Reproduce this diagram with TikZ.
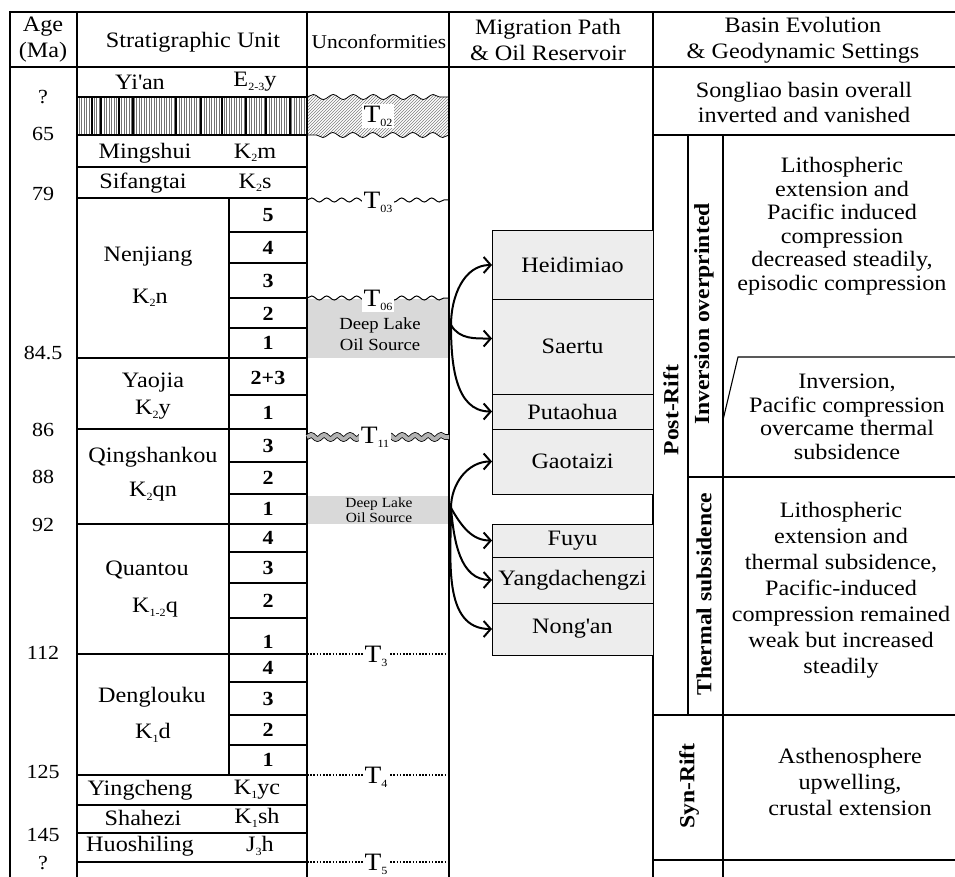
\documentclass[tikz,border=0pt]{standalone}
\usepackage{fontspec}
\setmainfont{Liberation Serif}[FakeStretch=1.1]
\usetikzlibrary{patterns,decorations.pathmorphing,arrows.meta}
\definecolor{srcgray}{HTML}{D9D9D9}
\definecolor{boxgray}{HTML}{EDEDED}
\newcommand\sbs[1]{\raisebox{-0.35ex}{\fontsize{11}{11}\selectfont #1}}
\newcommand\apo{\textquotesingle}
\begin{document}
\begin{tikzpicture}[x=1pt,y=-1pt,
  every node/.style={inner sep=0pt,outer sep=0pt},
  lbl/.style={font=\fontsize{22}{24}\selectfont,align=center},
  agel/.style={font=\fontsize{20}{22}\selectfont},
  num/.style={font=\bfseries\fontsize{20}{22}\selectfont},
  vlab/.style={font=\bfseries\fontsize{21.5}{22}\selectfont,rotate=90},
  tlab/.style={font=\fontsize{25}{26}\selectfont,fill=white,inner sep=1.5pt},
  resbox/.style={draw,line width=1pt,fill=boxgray,minimum width=161pt,anchor=north west,font=\fontsize{22}{24}\selectfont},
  grid/.style={line width=1.1pt},
  wavy/.style={line width=1pt,decorate,decoration={snake,amplitude=2pt,segment length=15pt}},
  rope/.style={line width=0.8pt,double=black!30,double distance=4pt,decorate,decoration={snake,amplitude=2pt,segment length=13pt}},
  dotline/.style={line width=1.8pt,dash pattern=on 1.6pt off 1.6pt},
  mig/.style={line width=2pt,-{Straight Barb[length=7pt,width=16pt]}}
]
\useasboundingbox (0,0) rectangle (955,877);
\fill[white] (0,0) rectangle (955,877);

% gray source fills
\fill[srcgray] (307,299) rectangle (449,358);
\fill[srcgray] (307,496) rectangle (449,524);

% hatched hiatus row
\foreach \x in {79,81.5,...,305} \draw[line width=0.45pt,black!55] (\x,97) -- (\x,135);
\foreach \x in {92,101,119,133,176,201,222,246,266,290} \draw[line width=1.3pt] (\x,97) -- (\x,135);

% T02 band
\draw[line width=0.8pt,pattern=north east lines,pattern color=black!50,
      decoration={snake,amplitude=2.5pt,segment length=20pt}]
  (307,97) decorate {-- (449,97)} -- (449,135) decorate {-- (307,135)} -- cycle;

% outer frame and columns
\draw[line width=2pt] (10,12) -- (955,12);
\draw[line width=2.2pt] (10,11) -- (10,877);
\draw[grid] (10,67) -- (955,67);
\foreach \x in {77,307,449,653} \draw[grid] (\x,12) -- (\x,877);

% stratigraphic grid
\foreach \y in {97,135,167,198,358,429,524,654,775,805,833,862} \draw[grid] (77,\y) -- (307,\y);
\foreach \y in {232,263,298,328,395,462,494,552,583,618,682,715,745} \draw[grid] (229,\y) -- (307,\y);
\draw[grid] (229,198) -- (229,775);

% basin evolution grid
\draw[grid] (653,135) -- (955,135);
\draw[grid] (688,135) -- (688,715);
\draw[grid] (723,135) -- (723,877);
\draw[grid] (688,477) -- (955,477);
\draw[grid] (723,420) -- (738,357) -- (955,357);
\draw[grid] (653,715) -- (955,715);
\draw[grid] (653,860) -- (955,860);

% unconformity lines
\draw[wavy] (307,200) -- (449,200);
\draw[wavy] (307,298) -- (449,298);
\draw[rope] (307,437) -- (449,437);
\draw[dotline] (307,654) -- (449,654);
\draw[dotline] (307,775) -- (449,775);
\draw[dotline] (307,862) -- (449,862);

% header
\node[lbl,font=\fontsize{22}{26}\selectfont] (hage) at (43,40) {Age\\(Ma)};
\node[lbl] (hstrat) at (193,42) {Stratigraphic Unit};
\node[lbl,font=\fontsize{19.5}{22}\selectfont] (hunc) at (379,42) {Unconformities};
\node[lbl,font=\fontsize{22}{26}\selectfont] (hmig) at (548,40) {Migration Path\\\& Oil Reservoir};
\node[lbl,font=\fontsize{22}{26}\selectfont] (hbas) at (803,40) {Basin Evolution\\\& Geodynamic Settings};

% ages
\node[agel] (a1) at (43,97) {?};
\node[agel] (a2) at (43,134) {65};
\node[agel] (a3) at (43,194) {79};
\node[agel] (a4) at (43,353) {84.5};
\node[agel] (a5) at (43,430) {86};
\node[agel] (a6) at (43,477) {88};
\node[agel] (a7) at (43,525) {92};
\node[agel] (a8) at (43,653) {112};
\node[agel] (a9) at (43,772) {125};
\node[agel] (a10) at (43,835) {145};
\node[agel] (a11) at (43,863) {?};

% formations
\node[lbl] (fyian) at (140,82) {Yi\apo an};
\node[lbl] (cyian) at (255,82) {E\sbs{2-3}y};
\node[lbl] (fming) at (145,153) {Mingshui};
\node[lbl] (cming) at (255,153) {K\sbs{2}m};
\node[lbl] (fsif) at (143,183) {Sifangtai};
\node[lbl] (csif) at (255,183) {K\sbs{2}s};
\node[lbl] (fnen) at (148,257) {Nenjiang};
\node[lbl] (cnen) at (150,298) {K\sbs{2}n};
\node[lbl] (fyao) at (153,383) {Yaojia};
\node[lbl] (cyao) at (153,410) {K\sbs{2}y};
\node[lbl] (fqing) at (153,457) {Qingshankou};
\node[lbl] (cqing) at (153,492) {K\sbs{2}qn};
\node[lbl] (fquan) at (147,570) {Quantou};
\node[lbl] (cquan) at (155,608) {K\sbs{1-2}q};
\node[lbl] (fdeng) at (152,697) {Denglouku};
\node[lbl] (cdeng) at (153,733) {K\sbs{1}d};
\node[lbl] (fying) at (140,790) {Yingcheng};
\node[lbl] (cying) at (257,790) {K\sbs{1}yc};
\node[lbl] (fsha) at (143,818) {Shahezi};
\node[lbl] (csha) at (257,818) {K\sbs{1}sh};
\node[lbl] (fhuo) at (140,846) {Huoshiling};
\node[lbl] (chuo) at (260,846) {J\sbs{3}h};

% members
\node[num] (n5) at (268,215) {5};
\node[num] (n4) at (268,248) {4};
\node[num] (n3) at (268,281) {3};
\node[num] (n2) at (268,314) {2};
\node[num] (n1) at (268,343) {1};
\node[num] (y23) at (268,378) {2+3};
\node[num] (y1) at (268,413) {1};
\node[num] (q3) at (268,446) {3};
\node[num] (q2) at (268,478) {2};
\node[num] (q1) at (268,509) {1};
\node[num] (qt4) at (268,538) {4};
\node[num] (qt3) at (268,568) {3};
\node[num] (qt2) at (268,601) {2};
\node[num] (qt1) at (268,642) {1};
\node[num] (d4) at (268,668) {4};
\node[num] (d3) at (268,699) {3};
\node[num] (d2) at (268,730) {2};
\node[num] (d1) at (268,760) {1};

% unconformity labels
\node[tlab] (t02) at (378,116) {T\sbs{02}};
\node[tlab] (t03) at (378,202) {T\sbs{03}};
\node[tlab] (t06) at (378,300) {T\sbs{06}};
\node[tlab] (t11) at (375,437) {T\sbs{11}};
\node[tlab] (t3) at (376,656) {T\sbs{3}};
\node[tlab] (t4) at (376,777) {T\sbs{4}};
\node[tlab] (t5) at (376,864) {T\sbs{5}};
\node[lbl,font=\fontsize{17}{21}\selectfont] (src1t) at (380,334) {Deep Lake\\Oil Source};
\node[lbl,font=\fontsize{14}{15.5}\selectfont] (src2t) at (379,510) {Deep Lake\\Oil Source};

% reservoirs
\node[resbox,minimum height=68pt] (heid) at (492,231) {Heidimiao};
\node[resbox,minimum height=95pt] (saertu) at (492,299) {Saertu};
\node[resbox,minimum height=35pt] (putao) at (492,394) {Putaohua};
\node[resbox,minimum height=65pt] (gaot) at (492,429) {Gaotaizi};
\node[resbox,minimum height=33pt] (fuyu) at (492,524) {Fuyu};
\node[resbox,minimum height=46pt] (yangd) at (492,557) {Yangdachengzi};
\node[resbox,minimum height=52pt] (nongan) at (492,603) {Nong\apo an};

% migration arrows
\coordinate (src1) at (451,325);
\coordinate (src2) at (451,508);
\draw[mig] (src1) to[out=90,in=180] (heid.west);
\draw[mig] (src1) to[out=-60,in=180] ([yshift=8pt]saertu.west);
\draw[mig] (src1) to[out=-90,in=180] (putao.west);
\draw[mig] (src2) to[out=90,in=180] (gaot.west);
\draw[mig] (src2) to[out=-60,in=180] (fuyu.west);
\draw[mig] (src2) to[out=-85,in=180] (yangd.west);
\draw[mig] (src2) to[out=-90,in=180] (nongan.west);

% basin evolution texts
\node[lbl,font=\fontsize{22}{25}\selectfont] (songl) at (804,102) {Songliao basin overall\\inverted and vanished};
\node[vlab] (postrift) at (671,410) {Post-Rift};
\node[vlab] (invov) at (704,314) {Inversion overprinted};
\node[vlab] (thsub) at (704,594) {Thermal subsidence};
\node[vlab] (synrift) at (689,786) {Syn-Rift};
\node[lbl,font=\fontsize{22}{23.5}\selectfont] (ev1) at (842,226) {Lithospheric\\extension and\\Pacific induced\\compression\\decreased steadily,\\episodic compression};
\node[lbl,font=\fontsize{22}{23.5}\selectfont] (ev2) at (847,417) {Inversion,\\Pacific compression\\overcame thermal\\subsidence};
\node[lbl,font=\fontsize{22}{26}\selectfont] (ev3) at (841,590) {Lithospheric\\extension and\\thermal subsidence,\\Pacific-induced\\compression remained\\weak but increased\\steadily};
\node[lbl,font=\fontsize{22}{26}\selectfont] (ev4) at (850,782) {Asthenosphere\\upwelling,\\crustal extension};
\end{tikzpicture}
\end{document}
